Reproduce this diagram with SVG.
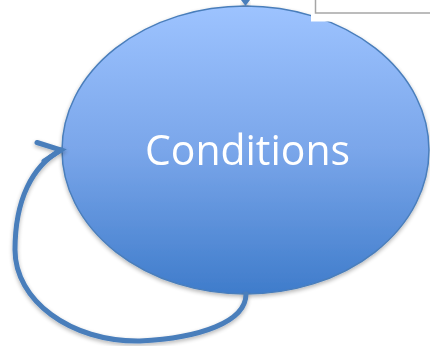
<svg xmlns="http://www.w3.org/2000/svg" width="430" height="346" viewBox="0 0 430 346">
  <defs>
    <linearGradient id="nodeFill" x1="0" y1="0" x2="0" y2="1">
      <stop offset="0" stop-color="#9dc3ff"/>
      <stop offset="0.5" stop-color="#7aa6ea"/>
      <stop offset="1" stop-color="#3f7ccb"/>
    </linearGradient>
    <filter id="softShadow" x="-10%" y="-10%" width="120%" height="125%">
      <feGaussianBlur in="SourceAlpha" stdDeviation="2"/>
      <feOffset dx="0" dy="2" result="b"/>
      <feComponentTransfer><feFuncA type="linear" slope="0.3"/></feComponentTransfer>
      <feMerge><feMergeNode/><feMergeNode in="SourceGraphic"/></feMerge>
    </filter>
  </defs>
  <style>
    .node { fill: url(#nodeFill); stroke: #4a7ebb; stroke-width: 1.5; }
    .label { font-family: "Open Sans", "Noto Sans", sans-serif; font-size: 42px; fill: #ffffff; }
    .link { fill: none; stroke: #4a7ebb; stroke-width: 5; stroke-linecap: round; stroke-linejoin: miter; }
    .box { fill: #ffffff; stroke: #a6a6a6; stroke-width: 1.5; }
  </style>

  <rect width="430" height="346" fill="#ffffff"/>

  <!-- central state -->
  <g id="conditions" filter="url(#softShadow)">
    <ellipse class="node" cx="245.5" cy="150" rx="183.5" ry="144"/>
    <text class="label" x="247.5" y="164.5" text-anchor="middle" textLength="205" lengthAdjust="spacingAndGlyphs">Conditions</text>
  </g>

  <!-- neighbouring box, partly off the top edge -->
  <g id="upper-box">
    <rect x="311" y="0" width="119" height="21.5" fill="#ffffff"/>
    <rect class="box" x="315.5" y="-10" width="130" height="23"/>
  </g>

  <g id="connectors">
    <!-- incoming arrow from above -->
    <path d="M241 0 L250 0 L245.5 6 Z" fill="#4a7ebb" filter="url(#softShadow)"/>
    <!-- self loop -->
    <g filter="url(#softShadow)">
      <path class="link" d="M246 294 C246 322 200 338 140 341 C70 342 15 300 15 250 C15 200 32 166 61 150"/>
      <path class="link" d="M37 142.5 L61 150 L44 161"/>
    </g>
  </g>
</svg>
